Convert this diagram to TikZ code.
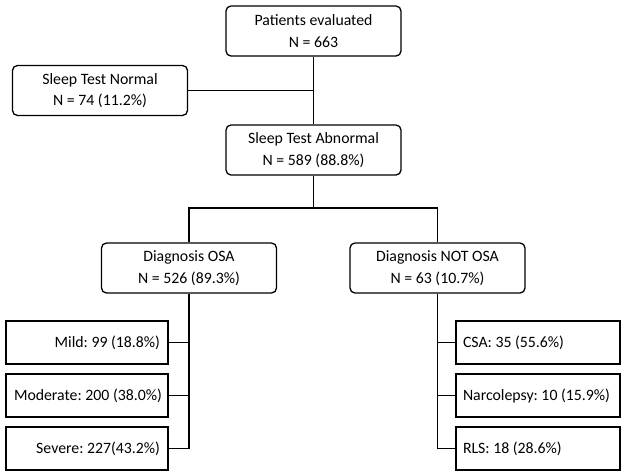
\documentclass[tikz,border=0pt]{standalone}
\usepackage{fontspec}
\setmainfont{Carlito}
\frenchspacing
\begin{document}
\begin{tikzpicture}[x=1pt,y=-1pt,
  every node/.style={font=\fontsize{15.8}{21.5}\selectfont},
  rbox/.style={draw,line width=1.3pt,rounded corners=5pt,minimum width=175pt,minimum height=50pt,align=center,inner sep=0pt},
  lbox/.style={draw,line width=1.3pt,minimum width=162pt,minimum height=43pt,text width=146pt,align=flush right,inner sep=0pt},
  rgbox/.style={draw,line width=1.3pt,minimum width=164pt,minimum height=43pt,text width=150pt,align=flush left,inner sep=0pt},
  conn/.style={line width=1.3pt}]
\useasboundingbox (0,0) rectangle (625,475);
\node[rbox] (pat) at (313.5,31) {Patients evaluated\\N = 663};
\node[rbox] (nor) at (100,90.5) {Sleep Test Normal\\N = 74 (11.2\%)};
\node[rbox] (abn) at (313.5,150) {Sleep Test Abnormal\\N = 589 (88.8\%)};
\node[rbox] (osa) at (189,268) {Diagnosis OSA\\N = 526 (89.3\%)};
\node[rbox] (nos) at (437.5,268) {Diagnosis NOT OSA\\N = 63 (10.7\%)};
\node[lbox] (mild) at (87,342.5) {Mild: 99 (18.8\%)};
\node[lbox] (mod) at (87,395.5) {\mbox{Moderate: 200 (38.0\%)}};
\node[lbox] (sev) at (87,448.5) {Severe: 227(43.2\%)};
\node[rgbox] (csa) at (538,342.5) {CSA: 35 (55.6\%)};
\node[rgbox] (nar) at (538,395.5) {\mbox{Narcolepsy: 10 (15.9\%)}};
\node[rgbox] (rls) at (538,448.5) {RLS: 18 (28.6\%)};
\coordinate (j) at (313.5,208);
\draw[conn] (pat.south) -- (abn.north);
\draw[conn] (nor.east) -- (nor.east -| pat.south);
\draw[conn] (abn.south) -- (j);
\draw[conn] (osa.north) |- (j) -| (nos.north);
\draw[conn] (osa.south) |- (sev.east);
\draw[conn] (mild.east) -- (mild.east -| osa.south);
\draw[conn] (mod.east) -- (mod.east -| osa.south);
\draw[conn] (nos.south) |- (rls.west);
\draw[conn] (csa.west) -- (csa.west -| nos.south);
\draw[conn] (nar.west) -- (nar.west -| nos.south);
\end{tikzpicture}
\end{document}
